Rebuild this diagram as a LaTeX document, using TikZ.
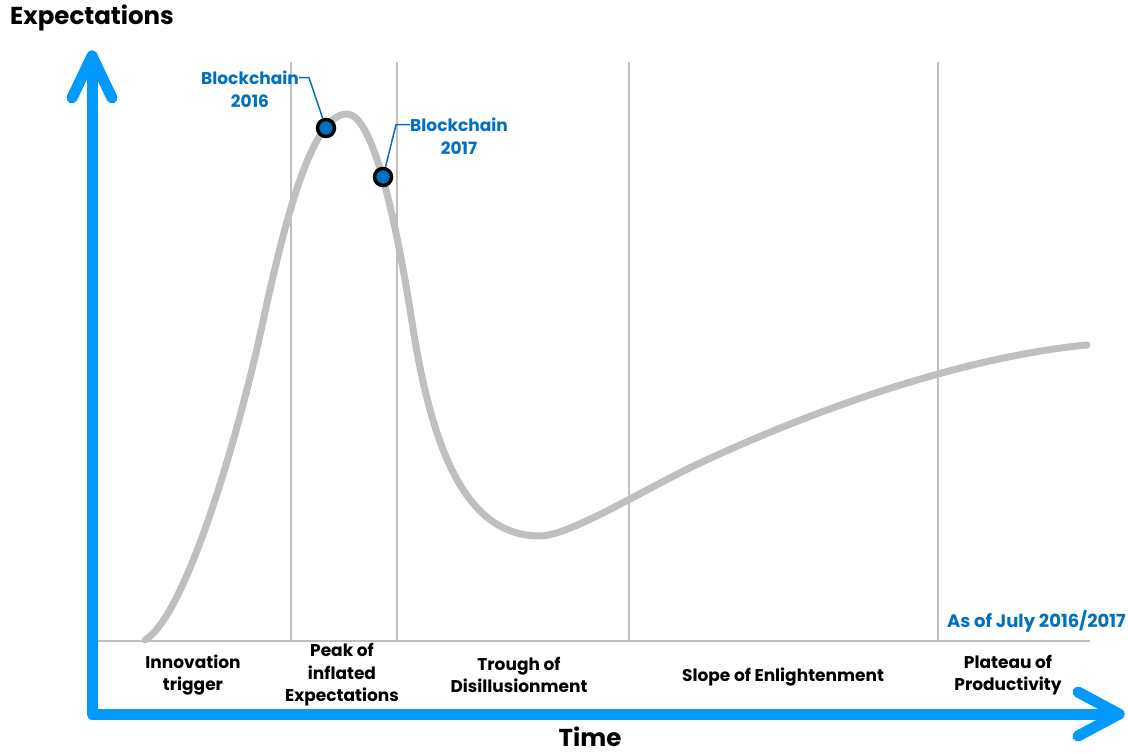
\documentclass[tikz,border=0pt]{standalone}
\usepackage{fontspec}
\setmainfont{Poppins}
\usepackage{tikz}
\usetikzlibrary{positioning}
\definecolor{axisblue}{RGB}{0,153,255}
\definecolor{tagblue}{RGB}{0,112,192}
\definecolor{curvegray}{RGB}{191,191,191}

\begin{document}
\begin{tikzpicture}[
        x=1pt, y=-1pt,
        every node/.style={align=center, inner sep=0pt},
        phaselabel/.style={font=\fontsize{17}{22.5}\selectfont\bfseries, text=black},
        axistitle/.style={font=\fontsize{24.5}{29}\selectfont\bfseries, text=black},
        taglabel/.style={font=\fontsize{17}{22.5}\selectfont\bfseries, text=tagblue},
        hypedot/.style={circle, draw=black, line width=3.5pt, fill=tagblue, minimum size=17pt},
        axisline/.style={line width=11pt, draw=axisblue, line cap=round, line join=round},
        gridline/.style={line width=1.8pt, draw=curvegray},
        hypecurve/.style={line width=7pt, draw=curvegray, line cap=round},
        leader/.style={line width=1.5pt, draw=tagblue}
    ]
    \useasboundingbox (0,0) rectangle (1128,754);

    % Phase separators
    \draw[gridline] (97,641) -- (1090,641);
    \draw[gridline] (291,62) -- (291,641);
    \draw[gridline] (397,62) -- (397,641);
    \draw[gridline] (629,62) -- (629,641);
    \draw[gridline] (938,62) -- (938,641);

    % Hype curve
    \coordinate (start) at (145,640);
    \coordinate (rise) at (262,326);
    \coordinate (top) at (347,114);
    \coordinate (fall) at (412,322);
    \coordinate (trough) at (540,536);
    \coordinate (climb) at (700,463);
    \coordinate (plateau) at (1087,345);
    \draw[hypecurve] (start) .. controls (186,616) and (239,433) .. (rise)
        .. controls (285,219) and (312,114) .. (top)
        .. controls (372,114) and (395,213) .. (fall)
        .. controls (434,465) and (472,536) .. (trough)
        .. controls (570,536) and (650,486) .. (climb)
        .. controls (809,412) and (960,357) .. (plateau);

    % Blockchain markers
    \node[hypedot] (b16) at (326,128) {};
    \node[hypedot] (b17) at (383,177) {};
    \node[taglabel] (t16) at (250,89) {Blockchain\\2016};
    \node[taglabel] (t17) at (459,136) {Blockchain\\2017};
    \draw[leader] ([yshift=-7pt]t16.north east) -- ++(10,0) -- (b16);
    \draw[leader] ([yshift=-7pt]t17.north west) -- ++(-14,0) -- (b17);
    \node[taglabel, font=\fontsize{18}{22.5}\selectfont\bfseries, anchor=east] (asof) at (1126,621) {As of July 2016/2017};

    % Phases
    \node[phaselabel] (innov) at (193,675) {Innovation\\trigger};
    \node[phaselabel] (peak) at (342,675) {Peak of\\inflated\\Expectations};
    \node[phaselabel] (disill) at (519,675) {Trough of\\Disillusionment};
    \node[phaselabel] (slope) at (783,677) {Slope of Enlightenment};
    \node[phaselabel] (product) at (1008,675) {Plateau of\\Productivity};

    % Axes
    \coordinate (origin) at (92,714);
    \coordinate (ytip) at (92,56);
    \coordinate (xtip) at (1119,714);
    \draw[axisline] (ytip) -- (origin) -- (xtip);
    \draw[axisline] ([xshift=-20pt,yshift=-42pt]ytip) -- (ytip) -- ([xshift=20pt,yshift=-42pt]ytip);
    \draw[axisline] ([xshift=-41pt,yshift=22pt]xtip) -- (xtip) -- ([xshift=-41pt,yshift=-22pt]xtip);
    \node[axistitle] (ylabel) at (92,18) {Expectations};
    \node[axistitle, anchor=base] (xlabel) at (590,746) {Time};

\end{tikzpicture}
\end{document}
